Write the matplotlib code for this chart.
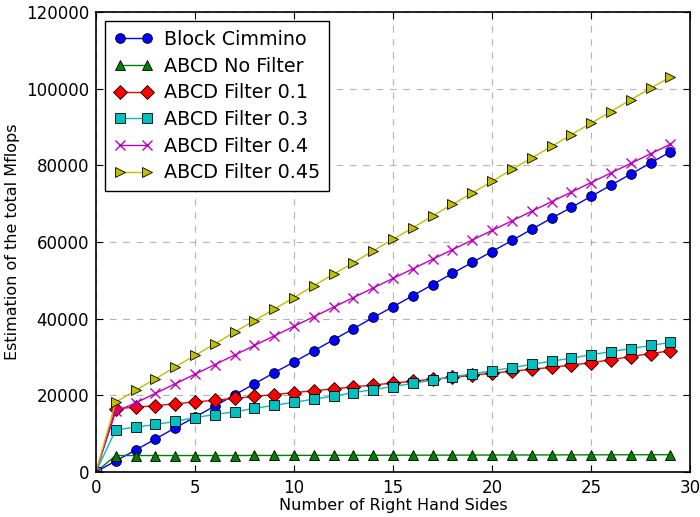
import matplotlib
matplotlib.use("Agg")
import matplotlib.pyplot as plt

x = list(range(0, 30))

block_cimmino = [0, 2900, 5700, 8600, 11500, 14300, 17200, 20100, 23000, 25900,
                 28700, 31600, 34500, 37400, 40300, 43100, 46000, 48900, 51800, 54700,
                 57500, 60400, 63300, 66200, 69000, 71900, 74800, 77700, 80600, 83500]
abcd_nofilter = [0, 4300, 4300, 4300, 4300, 4300, 4300, 4300, 4320, 4320,
                 4340, 4340, 4350, 4360, 4370, 4380, 4390, 4400, 4410, 4420,
                 4430, 4440, 4450, 4460, 4470, 4480, 4490, 4500, 4510, 4520]
abcd_f01 = [0, 16500, 16900, 17300, 17800, 18300, 18700, 19200, 19700, 20200,
            20700, 21200, 21700, 22200, 22700, 23200, 23700, 24200, 24700, 25200,
            25800, 26300, 26800, 27300, 27900, 28500, 29300, 30100, 30900, 31600]
abcd_f03 = [0, 11000, 11700, 12400, 13200, 14200, 15000, 15700, 16600, 17400,
            18200, 19000, 19800, 20700, 21500, 22300, 23100, 24000, 24800, 25600,
            26400, 27200, 28100, 28900, 29700, 30600, 31400, 32200, 33000, 33800]
abcd_f04 = [0, 15800, 18000, 20500, 23000, 25500, 28000, 30500, 33000, 35500,
            38000, 40500, 43000, 45500, 48000, 50500, 53000, 55500, 58000, 60500,
            63000, 65500, 68000, 70500, 73000, 75500, 78000, 80500, 83000, 85500]
abcd_f045 = [0, 18200, 21300, 24300, 27400, 30400, 33400, 36500, 39500, 42500,
             45500, 48600, 51600, 54600, 57700, 60700, 63700, 66800, 69800, 72800,
             75800, 78900, 81900, 84900, 88000, 91000, 94000, 97100, 100100, 103000]

labels = ["Block Cimmino", "ABCD No Filter", "ABCD Filter 0.1",
          "ABCD Filter 0.3", "ABCD Filter 0.4", "ABCD Filter 0.45"]
xticks = [0, 5, 10, 15, 20, 25, 30]
yticks = [0, 20000, 40000, 60000, 80000, 100000, 120000]

plt.rcParams['font.family'] = ['DejaVu Sans']
fig = plt.figure(figsize=(7.0, 5.17), dpi=100)
ax = fig.add_axes([0.137, 0.087, 0.849, 0.890])

series = [block_cimmino, abcd_nofilter, abcd_f01, abcd_f03, abcd_f04, abcd_f045]
colors = [(0, 0, 1), (0, 0.5, 0), (1, 0, 0), (0, 0.75, 0.75), (0.75, 0, 0.75), (0.75, 0.75, 0)]
markers = ['o', '^', 'D', 's', 'x', '>']
msizes = [7, 7, 7, 7, 7, 7]

for ys, c, m, ms, lab in zip(series, colors, markers, msizes, labels):
    if m == 'x':
        ax.plot(x, ys, color=c, marker=m, markersize=ms, markeredgecolor=c,
                markeredgewidth=1, linewidth=1, label=lab)
    else:
        ax.plot(x, ys, color=c, marker=m, markersize=ms, markerfacecolor=c,
                markeredgecolor='k', markeredgewidth=0.6, linewidth=1, label=lab)

ax.set_xlim(0, 30)
ax.set_ylim(0, 120000)
ax.set_xticks(xticks)
ax.set_yticks(yticks)
ax.tick_params(direction='in', top=True, right=True, length=5, labelsize=12, pad=5)
ax.grid(True, color='0.7', linestyle=(0, (6, 6)), linewidth=0.8)
ax.set_axisbelow(True)
for s in ax.spines.values():
    s.set_linewidth(1.2)
ax.set_xlabel("Number of Right Hand Sides", fontsize=11.5, labelpad=1)
ax.set_ylabel("Estimation of the total Mflops", fontsize=11.5, labelpad=4)

leg = ax.legend(loc='upper left', numpoints=2, fontsize=13.8, fancybox=False,
                edgecolor='k', framealpha=1, handlelength=2.0, borderpad=0.45,
                labelspacing=0.4, handletextpad=0.6, bbox_to_anchor=(0.0, 1.0),
                borderaxespad=0.5)
leg.get_frame().set_linewidth(1.0)

fig.savefig("out.png", dpi=100)
